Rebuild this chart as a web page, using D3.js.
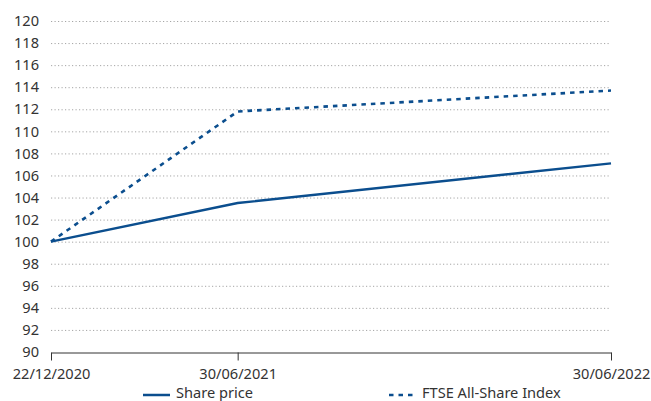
<!DOCTYPE html>
<html>
<head>
<meta charset="utf-8">
<script src="https://cdn.jsdelivr.net/npm/d3@7"></script>
<style>
  html, body { margin: 0; padding: 0; background: #fff; }
  svg { display: block; font-family: "Noto Sans", "Open Sans", sans-serif; }
</style>
</head>
<body>
<svg id="chart" width="651" height="401"></svg>
<script>
// Rebased performance (22/12/2020 = 100)
const dates = ["22/12/2020", "30/06/2021", "30/06/2022"];
const sharePrice = [100, 103.5, 107.1];
const ftseAllShare = [100, 111.8, 113.7];
const yTicks = [90, 92, 94, 96, 98, 100, 102, 104, 106, 108, 110, 112, 114, 116, 118, 120];
const seriesNames = ["Share price", "FTSE All-Share Index"];

const parse = d3.timeParse("%d/%m/%Y");
const start = parse(dates[0]);
// x position follows elapsed months from the start date
const months = dates.map(d => d3.timeMonth.count(start, parse(d)));

const svg = d3.select("#chart");
const margin = { left: 51, right: 40, top: 21, bottom: 49 };
const W = 651, H = 401;
const blue = "#0b4e8e";
const textCol = "#333333";
const fontSize = "14.6px";

const x = d3.scaleLinear().domain([0, d3.max(months)]).range([margin.left, W - margin.right]);
const y = d3.scaleLinear().domain([90, 120]).range([H - margin.bottom, margin.top]);

// dotted gridlines
svg.append("g")
  .selectAll("line")
  .data(yTicks.filter(t => t > 90))
  .join("line")
  .attr("x1", x(0)).attr("x2", x(d3.max(months)))
  .attr("y1", d => y(d) + 0.5).attr("y2", d => y(d) + 0.5)
  .attr("stroke", "#a6a6a6")
  .attr("stroke-width", 1)
  .attr("stroke-dasharray", "1.2,2.3");

// y axis labels
const yAxis = d3.axisLeft(y).tickValues(yTicks).tickSize(0).tickPadding(12).tickFormat(d3.format("d"));
svg.append("g")
  .attr("transform", `translate(${margin.left},0)`)
  .call(yAxis)
  .call(g => g.select(".domain").remove())
  .call(g => g.selectAll("text")
    .attr("fill", textCol)
    .style("font-size", fontSize)
    .style("font-family", "'Noto Sans', sans-serif"));

// x axis
const xAxis = d3.axisBottom(x).tickValues(months).tickSize(8).tickSizeOuter(0).tickPadding(8)
  .tickFormat((d, i) => dates[i]);
svg.append("g")
  .attr("transform", `translate(0,${y(90) + 0.5})`)
  .call(xAxis)
  .call(g => g.select(".domain").attr("stroke", textCol))
  .call(g => g.selectAll(".tick line").attr("stroke", textCol))
  .call(g => g.selectAll("text")
    .attr("fill", textCol)
    .style("font-size", fontSize)
    .style("font-family", "'Noto Sans', sans-serif"));

const line = d3.line().x((d, i) => x(months[i])).y(d => y(d));

svg.append("path")
  .datum(ftseAllShare)
  .attr("d", line)
  .attr("fill", "none")
  .attr("stroke", blue)
  .attr("stroke-width", 2.6)
  .attr("stroke-dasharray", "4.5,5");

svg.append("path")
  .datum(sharePrice)
  .attr("d", line)
  .attr("fill", "none")
  .attr("stroke", blue)
  .attr("stroke-width", 2.4);

// legend
const legend = svg.append("g");
const legendItems = [
  { name: seriesNames[0], x0: 143, dash: null },
  { name: seriesNames[1], x0: 389, dash: "4.5,5" }
];
legendItems.forEach(it => {
  legend.append("line")
    .attr("x1", it.x0).attr("x2", it.x0 + 27)
    .attr("y1", 395).attr("y2", 395)
    .attr("stroke", blue)
    .attr("stroke-width", 2.5)
    .attr("stroke-dasharray", it.dash);
  legend.append("text")
    .attr("x", it.x0 + 33)
    .attr("y", 397.5)
    .attr("fill", textCol)
    .style("font-size", fontSize)
    .text(it.name);
});
</script>
</body>
</html>
